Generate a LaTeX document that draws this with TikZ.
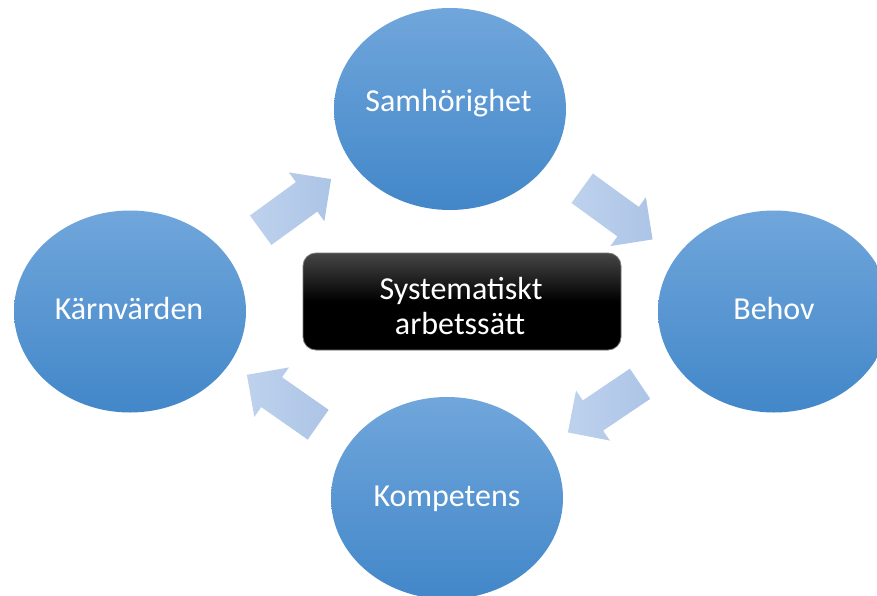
\documentclass[tikz,border=0pt]{standalone}
\usepackage{fontspec}
\setmainfont{Carlito}
\usetikzlibrary{shapes.geometric,shapes.arrows}
\definecolor{elltop}{RGB}{112,166,219}
\definecolor{ellbot}{RGB}{66,135,201}
\definecolor{arrA}{RGB}{190,210,237}
\definecolor{arrB}{RGB}{172,196,230}
\definecolor{boxtop}{RGB}{70,70,70}
\definecolor{boxborder}{RGB}{120,120,120}
\tikzset{
  blob/.style={ellipse, inner sep=0pt, minimum width=232pt, minimum height=202pt,
    top color=elltop, bottom color=ellbot, draw=none},
  lbl/.style={anchor=base, text=white, font=\fontsize{32}{38}\selectfont, inner sep=0pt},
  flow/.style={single arrow, single arrow head extend=12pt, inner xsep=0pt, inner ysep=18pt,
    minimum height=87pt, draw=none, left color=arrA, right color=arrB},
  centerbox/.style={rounded corners=13pt, draw=boxborder, line width=0.8pt,
    top color=boxtop, bottom color=black, middle color=black,
    minimum width=318pt, minimum height=97pt, inner sep=0pt}
}
\begin{document}
\begin{tikzpicture}[x=1pt,y=-1pt]
\useasboundingbox (0,0) rectangle (877,596);
\clip (0,0) rectangle (877,596);
\fill[white] (0,0) rectangle (877,596);
% ellipses
\node[blob] (sam) at (450,109) {};
\node[blob] (beh) at (774,311.5) {};
\node[blob] (kom) at (447,498) {};
\node[blob] (kar) at (130,311.5) {};
% labels
\node[lbl] (samt) at (448.5,112) {Samhörighet};
\node[lbl] (beht) at (774,319) {Behov};
\node[lbl] (komt) at (447,506) {Kompetens};
\node[lbl] (kart) at (129,319) {Kärnvärden};
% center box
\node[centerbox] (box) at (462,301.5) {};
\node[lbl] (boxa) at (461,299) {Systematiskt};
\node[lbl] (boxb) at (460,334) {arbetssätt};
% block arrows
\node[flow, rotate=36] (a1) at (288.5,210) {};
\node[flow, rotate=-36] (a2) at (610,208.5) {};
\node[flow, rotate=-146] (a3) at (611.5,403) {};
\node[flow, rotate=145] (a4) at (290,405) {};
\end{tikzpicture}
\end{document}
